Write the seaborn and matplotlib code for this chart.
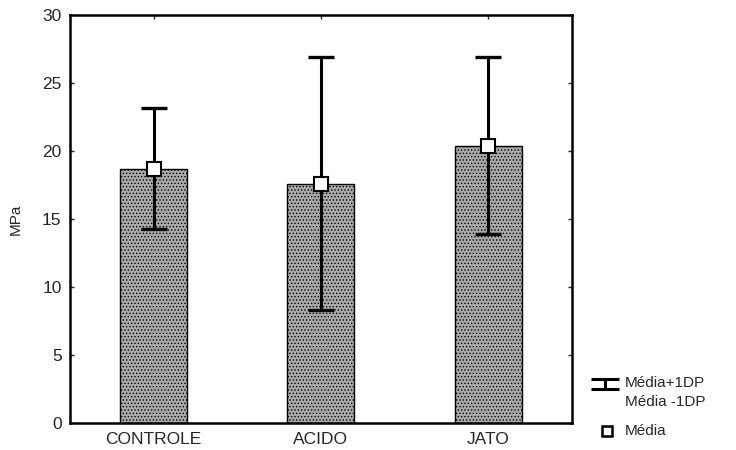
import matplotlib as mpl
mpl.use('Agg')
import matplotlib.pyplot as plt
import seaborn as sns
import pandas as pd
from matplotlib.lines import Line2D
from matplotlib.path import Path

## Data
grupos = ['CONTROLE', 'ACIDO', 'JATO']
media = [18.7, 17.6, 20.4]
dp = [4.45, 9.3, 6.5]
yticks = [0, 5, 10, 15, 20, 25, 30]

df = pd.DataFrame({'grupo': grupos, 'media': media, 'dp': dp})

sns.set_style('ticks')
plt.rcParams['font.family'] = ['Liberation Sans', 'DejaVu Sans']
plt.rcParams['hatch.linewidth'] = 0.6

fig = plt.figure(figsize=(7.36, 4.5), dpi=100)
ax = fig.add_axes([0.095, 0.059, 0.682, 0.908])

sns.barplot(data=df, x='grupo', y='media', order=grupos, errorbar=None,
            color='#aaaaaa', width=0.4, edgecolor='black', linewidth=1.0,
            saturation=1, ax=ax)
for p in ax.patches:
    p.set_hatch('.....')

# barras de desvio padrao
ax.errorbar(range(len(grupos)), df['media'], yerr=df['dp'], fmt='none',
            ecolor='black', elinewidth=2.2, capsize=9.5, capthick=2.4, zorder=3)
ax.plot(range(len(grupos)), df['media'], linestyle='none', marker='s',
        markersize=10, markerfacecolor='white', markeredgecolor='black',
        markeredgewidth=1.5, zorder=4)

ax.set_xlim(-0.5, 2.5)
ax.set_ylim(0, 30)
ax.set_yticks(yticks)
ax.set_xlabel('')
ax.set_ylabel('MPa', fontsize=11, labelpad=14)
ax.tick_params(axis='both', labelsize=12.5, direction='in', length=3,
               right=True, top=True, width=1, pad=6)
for s in ax.spines.values():
    s.set_visible(True)
    s.set_linewidth(1.8)
    s.set_color('black')

# legenda
ibeam = Path([(-1.4, 0.5), (1.4, 0.5), (0, 0.5), (0, -0.5), (-1.4, -0.5), (1.4, -0.5)],
             [Path.MOVETO, Path.LINETO, Path.MOVETO, Path.LINETO,
              Path.MOVETO, Path.LINETO])
fig.add_artist(Line2D([605 / 736], [1 - 384 / 450], marker=ibeam, markersize=20,
                      markerfacecolor='none', markeredgecolor='black',
                      markeredgewidth=2.2, linestyle='none'))
fig.add_artist(Line2D([607 / 736], [1 - 431 / 450], marker='s', markersize=7,
                      markerfacecolor='white', markeredgecolor='black',
                      markeredgewidth=1.8, linestyle='none'))
fig.text(625 / 736, 1 - 383 / 450, 'Média+1DP', fontsize=11, va='center')
fig.text(625 / 736, 1 - 402 / 450, 'Média -1DP', fontsize=11, va='center')
fig.text(625 / 736, 1 - 431 / 450, 'Média', fontsize=11, va='center')

fig.savefig('out.png', dpi=100, facecolor='white')
